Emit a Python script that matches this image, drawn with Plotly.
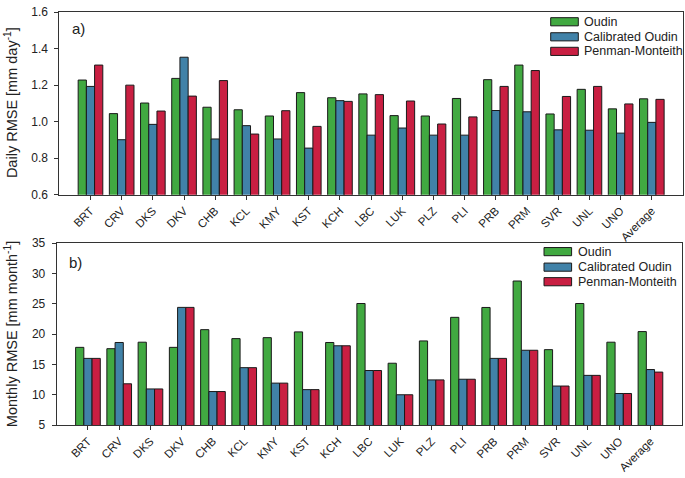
#!/usr/bin/env python3
# Daily and monthly RMSE of three PET methods per catchment
import plotly.graph_objects as go
from plotly.subplots import make_subplots

sites = ["BRT", "CRV", "DKS", "DKV", "CHB", "KCL", "KMY", "KST", "KCH", "LBC",
         "LUK", "PLZ", "PLI", "PRB", "PRM", "SVR", "UNL", "UNO", "Average"]

daily_oudin = [1.228, 1.044, 1.102, 1.237, 1.079, 1.065, 1.031, 1.159, 1.131, 1.152,
               1.033, 1.031, 1.127, 1.230, 1.310, 1.042, 1.177, 1.070, 1.125]
daily_cal = [1.193, 0.901, 0.985, 1.353, 0.905, 0.978, 0.905, 0.855, 1.115, 0.926,
             0.965, 0.926, 0.926, 1.061, 1.054, 0.955, 0.953, 0.937, 0.996]
daily_pm = [1.310, 1.200, 1.058, 1.140, 1.225, 0.932, 1.060, 0.974, 1.111, 1.148,
            1.113, 0.987, 1.026, 1.193, 1.280, 1.138, 1.193, 1.097, 1.122]

monthly_oudin = [17.82, 17.60, 18.67, 17.82, 20.74, 19.26, 19.42, 20.37, 18.62, 25.05,
                 15.20, 18.88, 22.77, 24.40, 28.76, 17.44, 25.05, 18.67, 20.42]
monthly_cal = [16.00, 18.62, 10.96, 24.41, 10.53, 14.47, 11.92, 10.85, 18.08, 14.00,
               10.00, 12.45, 12.56, 16.00, 17.34, 11.44, 13.20, 10.21, 14.16]
monthly_pm = [16.00, 11.81, 10.96, 24.41, 10.53, 14.47, 11.92, 10.85, 18.08, 14.00,
              10.00, 12.45, 12.56, 16.00, 17.34, 11.44, 13.20, 10.21, 13.74]

series_names = ["Oudin", "Calibrated Oudin", "Penman-Monteith"]
colors = ["#41a941", "#4182a8", "#c91f42"]

W, H = 685, 478
FONT = "Arial, Liberation Sans, sans-serif"


def px_x(x):
  return x / W


def px_y(y):
  return 1 - y / H


fig = make_subplots(rows=2, cols=1)

for row, data in ((1, (daily_oudin, daily_cal, daily_pm)), (2, (monthly_oudin, monthly_cal, monthly_pm))):
  for name, vals, col in zip(series_names, data, colors):
    fig.add_trace(go.Bar(x=sites, y=vals, name=name, showlegend=False,
        marker=dict(color=col, line=dict(color="#1a1a1a", width=1))), row=row, col=1)

axis_common = dict(showline=True, linecolor="#333", linewidth=1, mirror=True, ticks="outside",
    ticklen=4, tickcolor="#333", showgrid=False, zeroline=False,
    tickfont=dict(family=FONT, size=12, color="#222"))

fig.update_layout(
    width=W, height=H, margin=dict(l=0, r=0, t=0, b=0),
    plot_bgcolor="white", paper_bgcolor="white",
    barmode="group", bargap=0.21, bargroupgap=0,
    font=dict(family=FONT, size=12, color="#222"),
    xaxis=dict(domain=[px_x(59.3), px_x(683)], range=[-1, 19], tickangle=-45, **axis_common),
    yaxis=dict(domain=[px_y(193.3), px_y(5.3)], range=[0.6, 1.6], dtick=0.2, tickformat=".1f",
        ticklabelstandoff=4, **axis_common),
    xaxis2=dict(domain=[px_x(56.7), px_x(681.7)], range=[-1, 19], tickangle=-45, **axis_common),
    yaxis2=dict(domain=[px_y(430.7), px_y(243.3)], range=[5, 35], dtick=5,
        ticklabelstandoff=4, **axis_common),
)
fig.update_xaxes(tickfont=dict(size=11.5))


def note(text, x, y, size, angle=0, xanchor="center"):
  fig.add_annotation(text=text, textangle=angle, x=px_x(x), y=px_y(y), xref="paper", yref="paper",
      xanchor=xanchor, yanchor="middle", showarrow=False, font=dict(size=size))


# axis titles and panel letters
note("Daily RMSE [mm day<sup>-1</sup>]", 11, 99, 14.5, angle=-90)
note("Monthly RMSE [mm month<sup>-1</sup>]", 11, 337, 14.5, angle=-90)
note("a)", 70, 22, 15, xanchor="left")
note("b)", 67, 263, 15, xanchor="left")


# legends drawn by hand so the patches are wide rectangles like the original
def add_legend(x0, y_centers, text_x):
  for name, col, yc in zip(series_names, colors, y_centers):
    fig.add_shape(type="rect", xref="paper", yref="paper", x0=px_x(x0), x1=px_x(x0 + 27.6),
        y0=px_y(yc + 4.2), y1=px_y(yc - 4.2), fillcolor=col, line=dict(color="#1a1a1a", width=1))
    note(name, text_x, yc, 12.5, xanchor="left")


add_legend(550.7, [15.2, 30.7, 45.7], 582)
add_legend(544, [252, 268, 283], 575.5)

# drop the default body margin so the 685x478 figure fills the window exactly
fig.write_html("out.html", config={"displayModeBar": False},
    post_script="document.body.style.margin='0';")
